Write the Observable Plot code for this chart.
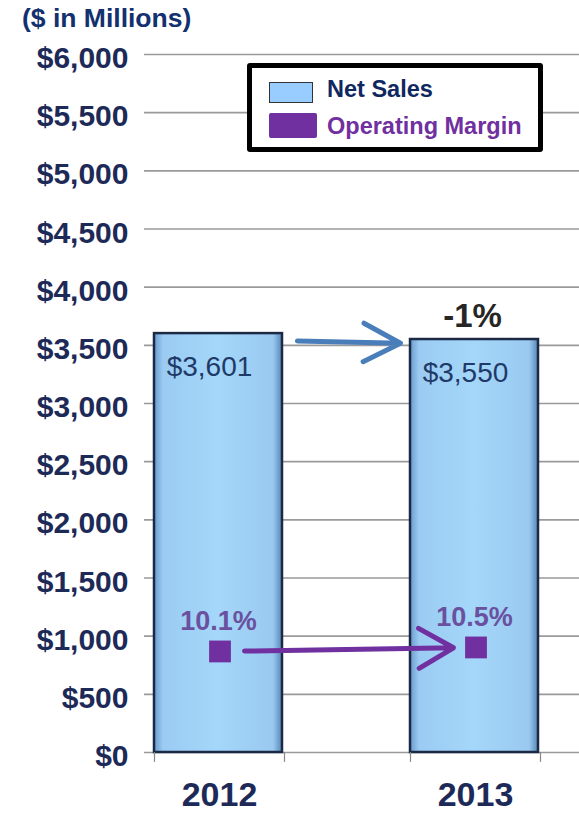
<!DOCTYPE html>
<html>
<head>
<meta charset="utf-8">
<script src="https://cdn.jsdelivr.net/npm/d3@7"></script>
<script src="https://cdn.jsdelivr.net/npm/@observablehq/plot@0.6"></script>
<style>
  html, body { margin: 0; padding: 0; background: #fff; }
  #wrap { position: relative; width: 579px; height: 821px; overflow: hidden; font-family: Arial, "Liberation Sans", sans-serif; }
  #title { position: absolute; left: 22px; top: 5px; font-size: 26.5px; font-weight: bold; color: #13306f; line-height: 1; white-space: nowrap; }
  #legend { position: absolute; left: 247px; top: 63px; width: 296px; height: 89px; box-sizing: border-box; border: 5px solid #000; border-radius: 3px; background: #fff; }
  .sw { position: absolute; box-sizing: border-box; }
  .lt { position: absolute; font-size: 23.5px; font-weight: bold; line-height: 1; white-space: nowrap; }
  #chart { position: absolute; left: 0; top: 0; }
</style>
</head>
<body>
<div id="wrap">
  <div id="chart"></div>
  <div id="title">($ in Millions)</div>
  <div id="legend">
    <div class="sw" style="left:17px; top:14px; width:44px; height:21px; background:#99CCFF; border:1px solid #333;"></div>
    <div class="lt" style="left:75px; top:10px; color:#0f2860;">Net Sales</div>
    <div class="sw" style="left:17px; top:45px; width:48px; height:25px; background:#7030A0; border-radius:2px;"></div>
    <div class="lt" style="left:75px; top:47px; color:#7030A0;">Operating Margin</div>
  </div>
</div>
<script>
// ---- data ----
const years = ["2012", "2013"];
const netSales = [3601, 3550];
const salesLabels = ["$3,601", "$3,550"];
const opMargin = [10.1, 10.5];
const marginLabels = ["10.1%", "10.5%"];
const changeYear = "2013";
const changeLabel = "-1%";
const yTicks = [0, 500, 1000, 1500, 2000, 2500, 3000, 3500, 4000, 4500, 5000, 5500, 6000];
// hidden secondary axis for operating margin (percent -> $ axis units)
const MARGIN_TO_Y = 86;

const rows = years.map((year, i) => ({
  year,
  sales: netSales[i],
  salesLabel: salesLabels[i],
  margin: opMargin[i],
  marginLabel: marginLabels[i],
  marginY: opMargin[i] * MARGIN_TO_Y
}));
const salesArrow = [{x1: years[0], y1: netSales[0], x2: years[1], y2: netSales[1]}];
const marginArrow = [{x1: years[0], y1: opMargin[0] * MARGIN_TO_Y, x2: years[1], y2: opMargin[1] * MARGIN_TO_Y}];
const changeRows = rows.filter(d => d.year === changeYear).map(d => ({...d, label: changeLabel}));

const navy = "#1d2a57";

const gradient = () => {
  const defs = d3.create("svg:defs");
  const g = defs.append("linearGradient").attr("id", "barGrad").attr("x1", "0").attr("x2", "1").attr("y1", "0").attr("y2", "0");
  [["0%", "#6a9acb"], ["7%", "#9bcbf2"], ["50%", "#a4d7fa"], ["93%", "#9ac9ef"], ["100%", "#5787b8"]]
    .forEach(([o, c]) => g.append("stop").attr("offset", o).attr("stop-color", c));
  return defs.node();
};

const chart = Plot.plot({
  width: 579,
  height: 821,
  marginTop: 54,
  marginBottom: 69,
  marginLeft: 144,
  marginRight: 0,
  style: {fontFamily: "Arial, 'Liberation Sans', sans-serif", background: "transparent"},
  x: {domain: years, range: [26, 666], padding: 0.5, label: null},
  y: {domain: [0, 6000], label: null},
  marks: [
    gradient,
    Plot.gridY(yTicks, {stroke: "#9a9a9a", strokeOpacity: 1, strokeWidth: 1.6}),
    Plot.barY(rows, {x: "year", y: "sales", fill: "url(#barGrad)", stroke: "#1b2945", strokeWidth: 2.5}),
    Plot.ruleX(rows, {x: "year", y1: 0, y2: -85, dx: -64, stroke: "#888", strokeWidth: 1.2}),
    Plot.ruleX(rows, {x: "year", y1: 0, y2: -85, dx: 66, stroke: "#888", strokeWidth: 1.2}),
    Plot.arrow(salesArrow, {x1: "x1", y1: "y1", x2: "x2", y2: "y2", dy: 5.5, insetStart: 79, insetEnd: 74,
      stroke: "#4a7ebb", strokeWidth: 5, headLength: 12.5, headAngle: 55}),
    Plot.arrow(marginArrow, {x1: "x1", y1: "y1", x2: "x2", y2: "y2", dx: 1, insetStart: 25, insetEnd: 22,
      stroke: "#7030A0", strokeWidth: 5, headLength: 12, headAngle: 60}),
    Plot.dot(rows, {x: "year", y: "marginY", symbol: "square", r: 12.3, fill: "#7030A0", dx: 1.5}),
    Plot.text(rows, {x: "year", y: "marginY", text: "marginLabel", dy: -21, lineAnchor: "bottom",
      fontSize: 27, fontWeight: "bold", fill: "#6a51a0"}),
    Plot.text(rows, {x: "year", y: "sales", text: "salesLabel", dx: -9, dy: 42, lineAnchor: "bottom",
      fontSize: 28, fill: "#1f3a68"}),
    Plot.text(changeRows, {x: "year", y: "sales", text: "label", dx: -2, dy: -12.5, lineAnchor: "bottom",
      fontSize: 33, fontWeight: "bold", fill: "#262626"}),
    Plot.axisY({ticks: yTicks, tickFormat: d => "$" + d3.format(",")(d), tickSize: 0, tickPadding: 16,
      fontSize: 30, fontWeight: "bold", fill: navy, dy: 4, label: null}),
    Plot.axisX({tickSize: 0, tickPadding: 29, fontSize: 34, fontWeight: "bold", fill: navy, label: null, dx: 1})
  ]
});
document.getElementById("chart").appendChild(chart);
</script>
</body>
</html>
